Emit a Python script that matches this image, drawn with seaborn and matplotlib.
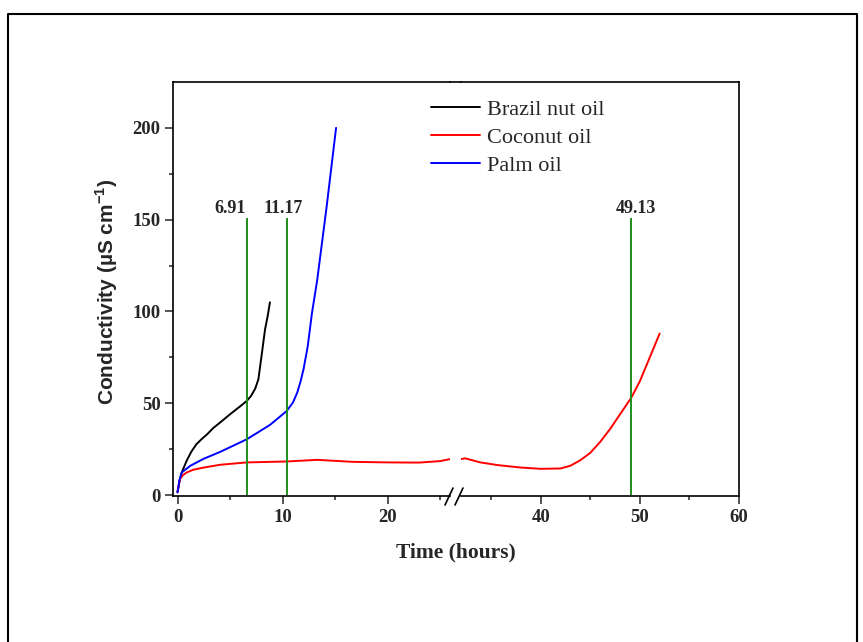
import matplotlib
matplotlib.use("Agg")
import pandas as pd
import matplotlib.pyplot as plt
import seaborn as sns
from matplotlib.lines import Line2D

# data (time in hours, conductivity in uS/cm)
brazil_t = [0, 0.1, 0.2, 0.4, 0.87, 1.3, 1.8, 2.3, 2.8, 3.4, 4.05, 5.0, 6.0, 6.6, 7.0, 7.4,
            7.7, 8.0, 8.33, 8.6, 8.8]
brazil_c = [1.5, 4.5, 8, 12.3, 18.7, 23.5, 27.7, 30.5, 33, 36.5, 39.5, 44, 48.5, 51.3, 54,
            58, 63, 75.7, 90, 98, 105]

palm_t = [0, 0.1, 0.17, 0.4, 1.2, 2.5, 4.05, 6.6, 8.8, 10.4, 11.0, 11.4, 11.7, 12.0, 12.4,
          12.8, 13.3, 14.2, 15.1]
palm_c = [1.5, 5, 7.8, 12.3, 15.9, 19.8, 23.5, 30.4, 38.2, 45.8, 50.5, 55.8, 61.5, 68.5,
          81, 99, 117, 157, 200]

coconut_t = [0, 0.1, 0.24, 0.5, 0.87, 1.5, 2.5, 4.05, 6.6, 10.4, 13.3, 16.7, 20, 23, 25,
             25.95, 31.9, 32.4, 33.9, 35.7, 38, 40, 42, 43, 44, 45, 46, 47, 48, 49.13, 50,
             51, 52]
coconut_c = [1.8, 5, 8.7, 10.8, 12.3, 13.8, 15, 16.5, 17.8, 18.3, 19.2, 18.1, 17.8, 17.7,
             18.5, 19.6, 19.6, 20, 17.8, 16.3, 15, 14.3, 14.5, 16, 19, 23, 29, 36, 44, 53,
             62, 75, 88]

series_names = ["Brazil nut oil", "Coconut oil", "Palm oil"]
series_colors = ["black", "red", "blue"]

marker_t = [6.6, 10.4, 49.13]      # where the green lines are drawn
marker_labels = ["6.91", "11.17", "49.13"]
marker_label_x = [5.0, 10.05, 49.65]

df = pd.concat([
    pd.DataFrame({"t": brazil_t, "c": brazil_c, "oil": "Brazil nut oil"}),
    pd.DataFrame({"t": coconut_t, "c": coconut_c, "oil": "Coconut oil"}),
    pd.DataFrame({"t": palm_t, "c": palm_c, "oil": "Palm oil"}),
])

sns.set_style("ticks")
plt.rcParams["font.family"] = ["Liberation Serif", "DejaVu Serif"]
plt.rcParams["mathtext.fontset"] = "custom"
plt.rcParams["mathtext.rm"] = "Liberation Sans"
plt.rcParams["mathtext.bf"] = "Liberation Sans:bold"

W, H = 863, 642
fig = plt.figure(figsize=(W / 100, H / 100), dpi=100)


def rect(x0, x1, y0, y1):
    return [x0 / W, 1 - y1 / H, (x1 - x0) / W, (y1 - y0) / H]


ax1 = fig.add_axes(rect(173, 450, 82, 496))
ax2 = fig.add_axes(rect(461, 739, 82, 496), sharey=ax1)

palette = dict(zip(series_names, series_colors))
for ax in (ax1, ax2):
    sns.lineplot(data=df, x="t", y="c", hue="oil", palette=palette, estimator=None,
                 sort=False, linewidth=1.4, legend=False, ax=ax)
    ax.set_xlabel("")
    ax.set_ylabel("")
    for s in ax.spines.values():
        s.set_linewidth(1.2)
        s.set_color("black")
    ax.tick_params(which="major", direction="out", length=6, width=1.1, pad=3)
    ax.tick_params(which="minor", direction="out", length=3, width=1.1)

ax1.set_xlim(-0.43, 25.95)
ax2.set_xlim(31.96, 60)
ax1.set_ylim(-0.5, 225)
ax1.set_xticks([0, 10, 20])
ax1.set_xticks([5, 15, 25], minor=True)
ax2.set_xticks([40, 50, 60])
ax2.set_xticks([35, 45, 55], minor=True)
ax1.set_yticks([0, 50, 100, 150, 200])
ax1.set_yticks([25, 75, 125, 175], minor=True)
for ax in (ax1, ax2):
    ax.set_xticklabels([str(v) for v in ax.get_xticks()], fontweight="bold", fontsize=13.5)
ax1.set_yticklabels([str(v) for v in ax1.get_yticks()], fontweight="bold", fontsize=13.5)

ax1.spines["right"].set_visible(False)
ax2.spines["left"].set_visible(False)
ax2.tick_params(axis="y", which="both", left=False, labelleft=False)

# green marker lines with labels
for t, lab, lx in zip(marker_t, marker_labels, marker_label_x):
    ax = ax1 if t < 30 else ax2
    ax.vlines(t, 0, 151, color="#1f8f1f", linewidth=1.4)
    ax.text(lx, 156, lab, ha="center", va="center", fontsize=13, fontweight="bold")

# top spine bridge and break marks
fig.add_artist(Line2D([450 / W, 461 / W], [1 - 82 / H, 1 - 82 / H], color="black", lw=1.2))
for x0, x1 in [(445, 453), (455, 463)]:
    fig.add_artist(Line2D([x0 / W, x1 / W], [1 - 505 / H, 1 - 488 / H], color="black", lw=1.2))

# outer frame
fig.add_artist(Line2D([8 / W, 8 / W, 857 / W, 857 / W], [0, 1 - 14 / H, 1 - 14 / H, 0],
                      color="black", lw=1.5))

handles = [Line2D([], [], color=c, lw=1.4) for c in series_colors]
fig.legend(handles, series_names, loc="upper left", bbox_to_anchor=(427 / W, 1 - 95 / H),
           frameon=False, fontsize=16, handlelength=2.2, handletextpad=0.3, labelspacing=0.33,
           borderaxespad=0, borderpad=0.2)

fig.text(456 / W, 1 - 552 / H, "Time (hours)", ha="center", va="center",
         fontsize=15.5, fontweight="bold")
fig.text(107 / W, 1 - 292 / H, r"Conductivity (µS cm$^{\mathbf{-1}}$)", ha="center",
         va="center", rotation=90, fontsize=15, fontweight="bold",
         family=["Liberation Sans", "DejaVu Sans"])

fig.savefig("out.png", dpi=100)
